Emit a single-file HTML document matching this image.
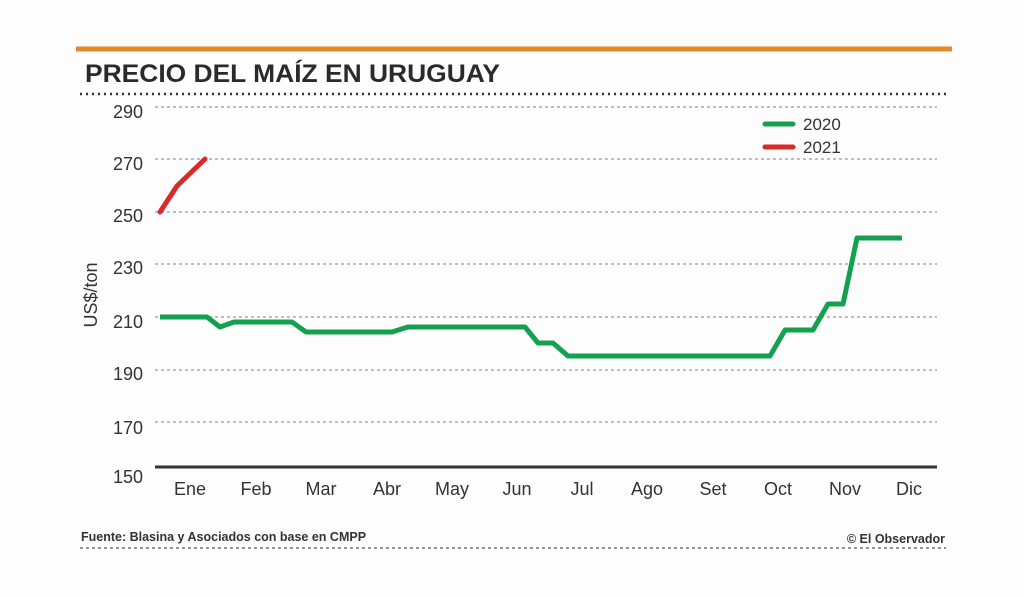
<!DOCTYPE html>
<html><head><meta charset="utf-8"><style>
body{margin:0;background:#fdfdfd;}
svg{display:block;font-family:"Liberation Sans",sans-serif;}
</style></head><body>
<svg width="1024" height="597" viewBox="0 0 1024 597">
<rect width="1024" height="597" fill="#fdfdfd"/>
<line x1="76" y1="49" x2="952" y2="49" stroke="#e8862a" stroke-width="5"/>
<text x="85" y="82" font-size="25" font-weight="bold" fill="#2a2a2a" textLength="415" lengthAdjust="spacingAndGlyphs">PRECIO DEL MAÍZ EN URUGUAY</text>
<line x1="80" y1="94" x2="946" y2="94" stroke="#333" stroke-width="2.5" stroke-dasharray="2,4"/>
<g stroke="#999" stroke-width="1.2" stroke-dasharray="3,3">
<line x1="155" y1="107" x2="937" y2="107"/>
<line x1="155" y1="159" x2="937" y2="159"/>
<line x1="155" y1="212" x2="937" y2="212"/>
<line x1="155" y1="264" x2="937" y2="264"/>
<line x1="155" y1="317" x2="937" y2="317"/>
<line x1="155" y1="370" x2="937" y2="370"/>
<line x1="155" y1="422" x2="937" y2="422"/>
</g>
<line x1="155" y1="467" x2="937" y2="467" stroke="#333" stroke-width="3"/>
<g font-size="18" fill="#333" text-anchor="end">
<text x="143" y="118">290</text><text x="143" y="170">270</text><text x="143" y="222">250</text>
<text x="143" y="274">230</text><text x="143" y="328">210</text><text x="143" y="380">190</text>
<text x="143" y="434">170</text><text x="143" y="483">150</text>
</g>
<text transform="translate(97,295) rotate(-90)" font-size="18" fill="#333" text-anchor="middle">US$/ton</text>
<g font-size="18" fill="#333" text-anchor="middle">
<text x="190" y="495">Ene</text><text x="256" y="495">Feb</text><text x="321" y="495">Mar</text>
<text x="387" y="495">Abr</text><text x="452" y="495">May</text><text x="517" y="495">Jun</text>
<text x="582" y="495">Jul</text><text x="647" y="495">Ago</text><text x="713" y="495">Set</text>
<text x="778" y="495">Oct</text><text x="845" y="495">Nov</text><text x="909" y="495">Dic</text>
</g>
<polyline fill="none" stroke="#13a04f" stroke-width="5" stroke-linejoin="round" points="160,317 207,317 220,327 234,322 292,322 306,332 392,332 408,327 525,327 538,343 553,343 568,356 770,356 785,330 813,330 828,304 843,304 857,238 902,238"/>
<polyline fill="none" stroke="#d92a2a" stroke-width="5" stroke-linecap="round" stroke-linejoin="round" points="160,212 177,186 205,159"/>
<line x1="765" y1="124" x2="793" y2="124" stroke="#13a04f" stroke-width="5" stroke-linecap="round"/>
<text x="803" y="130" font-size="17" fill="#333">2020</text>
<line x1="765" y1="147" x2="793" y2="147" stroke="#d92a2a" stroke-width="5" stroke-linecap="round"/>
<text x="803" y="153" font-size="17" fill="#333">2021</text>
<text x="81" y="541" font-size="12.5" font-weight="bold" fill="#333">Fuente: Blasina y Asociados con base en CMPP</text>
<text x="945" y="543" font-size="12.5" font-weight="bold" fill="#333" text-anchor="end">© El Observador</text>
<line x1="80" y1="548" x2="946" y2="548" stroke="#555" stroke-width="1.3" stroke-dasharray="3,3"/>
</svg>
</body></html>
